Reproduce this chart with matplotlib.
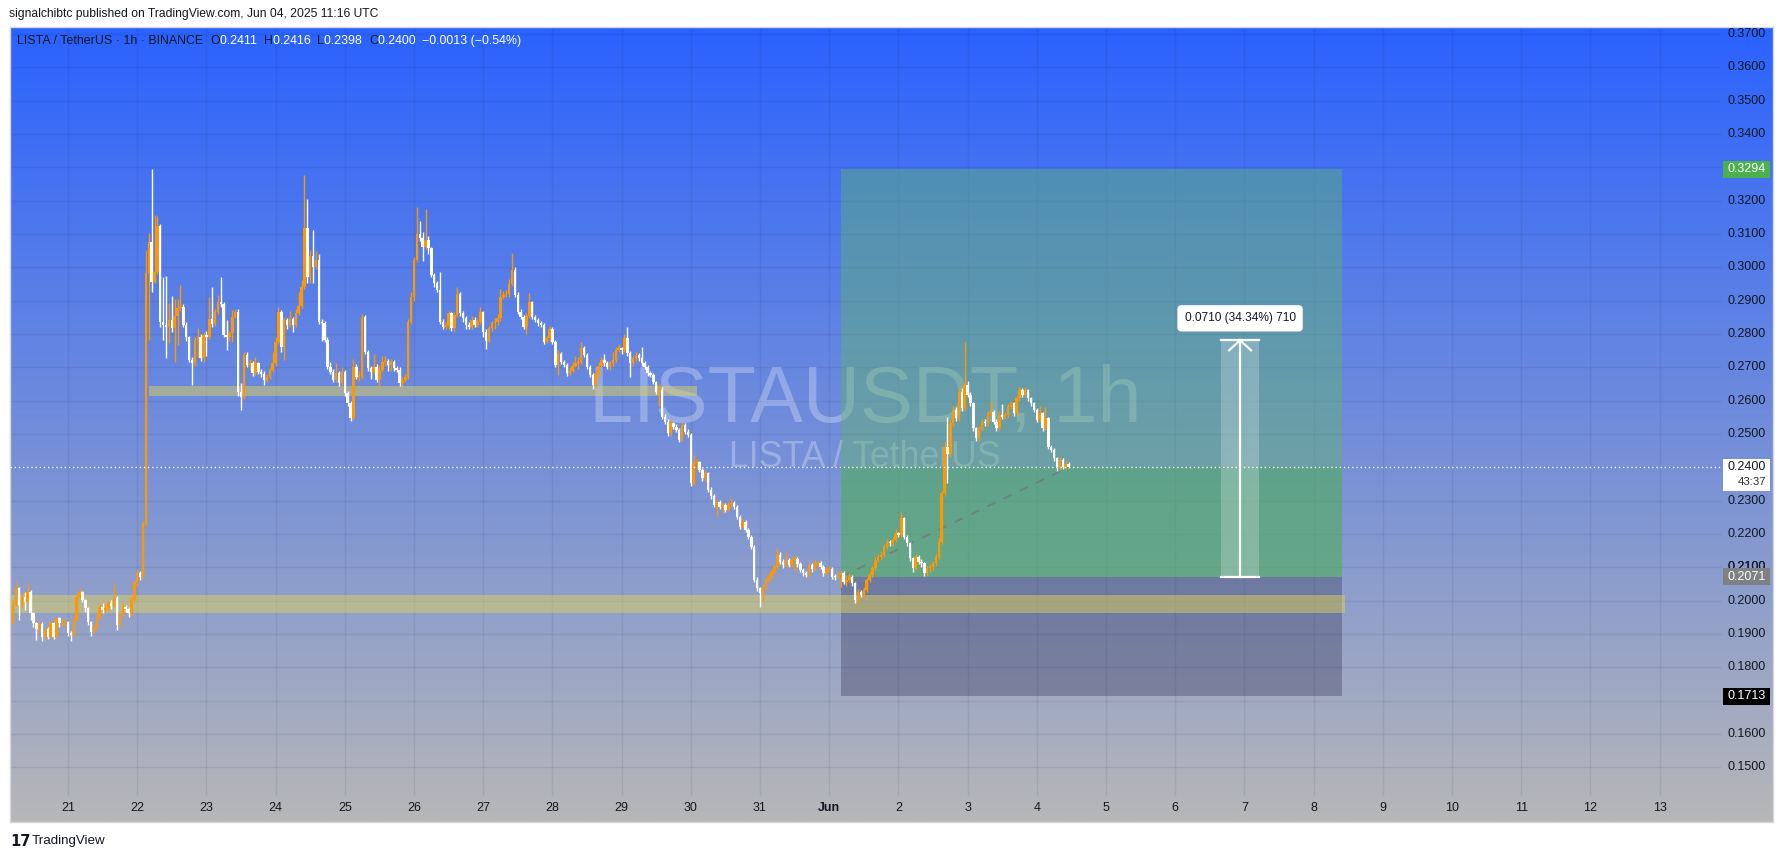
import numpy as np
import pandas as pd
import matplotlib
matplotlib.use("Agg")
import matplotlib.pyplot as plt
from matplotlib import transforms
from matplotlib.patches import Rectangle

plt.rcParams['font.family'] = ['Liberation Sans', 'DejaVu Sans']

# ------------------------------------------------------------------ data
start_time = "2025-05-20 05:00"          # first hourly candle
first_open_1e4 = 1932

close_1e4 = [
1987,2037,1987,2012,1997,2027,1962,1932,1915,1930,
1890,1915,1890,1932,1890,1947,1932,1935,1937,1902,
1897,1942,2012,2027,2002,1977,1937,1905,1922,1952,
1982,1972,1977,1992,1985,2007,1927,1962,1982,1975,
1962,2002,2052,2082,2072,2230,2982,3077,2957,2987,
3124,2837,2827,2822,2842,2817,2854,2877,2882,2827,
2790,2722,2712,2782,2792,2727,2797,2790,2844,2830,
2865,2897,2890,2797,2790,2802,2852,2865,2627,2612,
2737,2707,2712,2682,2712,2687,2680,2662,2672,2692,
2712,2777,2867,2762,2842,2827,2844,2827,2864,2884,
2942,3117,2972,3034,3002,3022,2837,2832,2782,2702,
2687,2662,2682,2652,2687,2622,2592,2547,2702,2672,
2672,2852,2747,2697,2687,2702,2662,2692,2717,2720,
2707,2717,2697,2692,2652,2662,2672,2837,2912,3022,
3100,3087,3062,3082,3057,2977,2952,2932,2837,2822,
2825,2862,2817,2857,2920,2862,2847,2827,2822,2842,
2827,2837,2865,2807,2780,2817,2832,2835,2847,2912,
2917,2920,2950,2992,2917,2867,2852,2822,2854,2897,
2852,2842,2832,2827,2777,2787,2814,2777,2707,2740,
2717,2707,2682,2690,2705,2712,2715,2757,2737,2702,
2677,2647,2680,2705,2722,2712,2702,2712,2722,2752,
2757,2752,2787,2742,2712,2727,2737,2727,2712,2702,
2682,2677,2657,2627,2632,2552,2537,2502,2532,2522,
2512,2482,2527,2507,2497,2352,2412,2417,2392,2367,
2382,2332,2315,2287,2297,2282,2287,2272,2287,2292,
2282,2252,2222,2237,2212,2192,2162,2062,2037,2022,
2042,2062,2072,2087,2102,2137,2117,2107,2122,2107,
2122,2125,2110,2092,2082,2077,2107,2094,2107,2112,
2102,2082,2092,2095,2072,2070,2077,2082,2057,2062,
2072,2052,2002,2027,2017,2032,2062,2077,2097,2122,
2132,2137,2162,2177,2172,2182,2202,2197,2247,2192,
2172,2127,2097,2132,2117,2112,2082,2097,2100,2112,
2132,2177,2322,2462,2440,2532,2572,2547,2627,2577,
2647,2617,2592,2517,2487,2517,2537,2532,2562,2567,
2537,2517,2557,2552,2557,2582,2592,2562,2607,2632,
2617,2632,2607,2592,2572,2542,2562,2517,2547,2462,
2452,2427,2397,2422,2402,2411,2400]

high_1e4 = [
2002,2057,2042,2025,2027,2052,2032,1965,1935,1940,
1935,1918,1920,1940,1937,1952,1950,1945,1945,1940,
1910,1950,2022,2037,2030,2005,1980,1940,1930,1962,
1990,1992,1990,2000,2002,2052,2015,1970,1992,1987,
1980,2010,2062,2092,2090,2240,3052,3102,3295,3157,
3154,3130,2972,2974,2892,2915,2905,2905,2947,2890,
2835,2795,2730,2790,2817,2800,2805,2810,2912,2942,
2875,2917,2972,2895,2842,2810,2872,2875,2875,2652,
2745,2745,2725,2720,2730,2717,2695,2690,2680,2700,
2747,2790,2880,2872,2850,2847,2870,2850,2875,2925,
2962,3277,3204,3052,3112,3050,3040,2845,2840,2790,
2715,2695,2712,2690,2700,2692,2630,2600,2725,2710,
2690,2860,2858,2752,2705,2740,2710,2705,2735,2735,
2725,2725,2722,2705,2700,2670,2680,2845,2925,3030,
3180,3140,3105,3175,3095,3062,2982,2960,2985,2845,
2835,2870,2867,2865,2940,2925,2870,2855,2835,2855,
2850,2845,2880,2870,2815,2825,2840,2847,2860,2935,
2930,2932,2965,3042,3000,2925,2875,2857,2862,2922,
2900,2858,2848,2840,2832,2795,2825,2822,2782,2752,
2745,2722,2712,2700,2715,2735,2730,2775,2765,2742,
2707,2682,2690,2715,2730,2740,2720,2720,2745,2762,
2770,2762,2800,2822,2750,2735,2745,2742,2762,2720,
2707,2690,2682,2660,2650,2640,2560,2545,2542,2537,
2530,2518,2535,2532,2515,2502,2437,2425,2420,2397,
2392,2387,2340,2320,2305,2302,2295,2292,2295,2307,
2298,2287,2257,2245,2242,2217,2197,2167,2070,2042,
2050,2070,2082,2095,2110,2157,2145,2125,2147,2127,
2130,2137,2130,2115,2098,2090,2115,2112,2125,2120,
2118,2107,2100,2105,2100,2080,2085,2092,2090,2075,
2082,2077,2057,2035,2032,2040,2067,2085,2105,2130,
2140,2150,2170,2185,2182,2192,2215,2207,2267,2250,
2197,2177,2132,2140,2137,2125,2117,2105,2110,2120,
2140,2187,2330,2475,2552,2545,2587,2580,2640,2637,
2777,2660,2625,2597,2522,2525,2545,2545,2570,2600,
2572,2545,2570,2590,2565,2590,2600,2597,2615,2642,
2637,2640,2635,2612,2597,2577,2585,2567,2582,2552,
2467,2457,2432,2430,2427,2418,2416]

low_1e4 = [
1930,1985,1942,1980,1972,1995,1942,1922,1882,1905,
1880,1885,1885,1887,1885,1888,1920,1925,1925,1895,
1880,1892,1940,2005,1997,1965,1927,1895,1900,1915,
1945,1962,1965,1970,1975,1980,1912,1920,1955,1967,
1950,1955,1997,2045,2062,2065,2225,2782,2927,2952,
2980,2820,2782,2727,2772,2807,2715,2767,2870,2820,
2780,2715,2647,2705,2732,2720,2715,2735,2785,2822,
2825,2860,2882,2790,2752,2780,2777,2848,2615,2572,
2605,2700,2692,2675,2677,2680,2672,2647,2655,2665,
2685,2705,2770,2745,2722,2815,2820,2805,2820,2858,
2878,2935,2952,2952,2952,2995,2830,2780,2775,2695,
2680,2655,2655,2645,2647,2615,2585,2540,2542,2665,
2660,2665,2740,2690,2665,2680,2655,2645,2685,2705,
2690,2690,2690,2685,2645,2645,2655,2665,2830,2900,
3015,3080,3020,3055,3040,2970,2940,2925,2830,2815,
2815,2815,2810,2805,2850,2855,2835,2815,2815,2815,
2820,2822,2830,2790,2755,2775,2810,2815,2828,2840,
2905,2910,2912,2945,2910,2860,2845,2815,2800,2848,
2845,2835,2825,2820,2770,2772,2780,2770,2700,2677,
2710,2700,2675,2677,2685,2700,2695,2710,2730,2695,
2670,2635,2640,2672,2700,2705,2695,2692,2705,2715,
2745,2740,2745,2735,2672,2705,2720,2720,2705,2695,
2675,2670,2650,2620,2585,2545,2530,2495,2495,2515,
2505,2475,2478,2500,2490,2345,2345,2395,2385,2360,
2360,2325,2305,2280,2255,2275,2262,2265,2268,2280,
2275,2245,2215,2218,2205,2185,2155,2055,2030,1982,
2000,2035,2055,2065,2080,2095,2110,2097,2100,2100,
2100,2085,2102,2085,2075,2070,2072,2087,2088,2100,
2095,2075,2077,2085,2065,2062,2065,2040,2050,2045,
2055,2045,1992,1995,2010,2012,2027,2057,2072,2092,
2115,2125,2130,2155,2165,2165,2175,2190,2192,2185,
2165,2120,2087,2092,2110,2100,2075,2077,2085,2092,
2105,2125,2170,2315,2352,2432,2525,2540,2540,2570,
2570,2610,2585,2510,2480,2480,2510,2525,2525,2555,
2530,2510,2512,2545,2545,2550,2575,2555,2555,2600,
2610,2612,2600,2585,2565,2535,2537,2510,2512,2455,
2445,2420,2390,2392,2395,2395,2398]

price_ticks = [0.15, 0.16, 0.17, 0.18, 0.19, 0.20, 0.21, 0.22, 0.23, 0.24, 0.25,
               0.26, 0.27, 0.28, 0.29, 0.30, 0.31, 0.32, 0.33, 0.34, 0.35, 0.36, 0.37]
day_labels = ["21", "22", "23", "24", "25", "26", "27", "28", "29", "30", "31", "Jun",
              "2", "3", "4", "5", "6", "7", "8", "9", "10", "11", "12", "13"]
first_label_day = "2025-05-21"

upper_zone_price = (0.2614, 0.2644)
upper_zone_time = ("2025-05-22 04:00", "2025-05-30 02:00")
lower_zone_price = (0.1962, 0.2017)
lower_zone_time = ("2025-05-19 00:00", "2025-06-08 11:00")

position_time = ("2025-06-01 04:00", "2025-06-08 10:00")
entry_price, target_price, stop_price = 0.2071, 0.3294, 0.1713
last_price = 0.2400
countdown = "43:37"

measure_time = ("2025-06-06 16:00", "2025-06-07 05:00")
measure_from, measure_to = 0.2071, 0.2781
measure_label = "0.0710 (34.34%) 710"

title_text = "signalchibtc published on TradingView.com, Jun 04, 2025 11:16 UTC"
legend_parts = [("LISTA / TetherUS \u00b7 1h \u00b7 BINANCE  ", "#131722"),
                ("O", "#131722"), ("0.2411  ", "white"),
                ("H", "#131722"), ("0.2416  ", "white"),
                ("L", "#131722"), ("0.2398  ", "white"),
                ("C", "#131722"), ("0.2400  ", "white"),
                ("\u22120.0013 (\u22120.54%)", "white")]
watermark_main = "LISTAUSDT, 1h"
watermark_sub = "LISTA / TetherUS"

# ------------------------------------------------------------------ layout
W, H = 1784, 858
BOX_L, BOX_R, BOX_T, BOX_B = 10, 1773, 27, 822     # chart box in px
PLOT_R = 1720                                       # end of price pane
AXIS_TOP = 795                                      # top of the date band
PX_PER_DAY = 69.2
PX_PER_CENT = 33.333                                # px per 0.01
X0_PX = 68                                          # px of first label day
P0, P0_PX = 0.37, 34                                # price -> px anchor

ORANGE = "#FF9800"
DARK = "#131722"

T0 = pd.Timestamp(first_label_day)


def days(ts):
    return (pd.to_datetime(ts) - T0) / pd.Timedelta(days=1)


xlim = ((BOX_L - X0_PX) / PX_PER_DAY, (BOX_R - X0_PX) / PX_PER_DAY)
ylim = (P0 - (BOX_B - P0_PX) / PX_PER_CENT * 0.01, P0 + (P0_PX - BOX_T) / PX_PER_CENT * 0.01)
dp = 0.01 / PX_PER_CENT     # price per px
dt = 1 / PX_PER_DAY         # days per px

fig = plt.figure(figsize=(W / 100, H / 100), dpi=100)
fig.patch.set_facecolor("white")
ax = fig.add_axes([BOX_L / W, 1 - BOX_B / H, (BOX_R - BOX_L) / W, (BOX_B - BOX_T) / H])
ax.set_xlim(*xlim)
ax.set_ylim(*ylim)
ax.set_xticks([])
ax.set_yticks([])
for s in ax.spines.values():
    s.set_color("#d6d6d6")
    s.set_linewidth(1)


def fx(px):
    return (px - BOX_L) / (BOX_R - BOX_L)


def fy(py):
    return (BOX_B - py) / (BOX_B - BOX_T)


# background gradient
g = np.linspace(0, 1, 600)[:, None, None]
top_c = np.array([42, 98, 255]) / 255
bot_c = np.array([183, 183, 183]) / 255
img = top_c + (bot_c - top_c) * g
ax.imshow(img, extent=[xlim[0], xlim[1], ylim[0], ylim[1]], aspect="auto",
          origin="upper", zorder=0, interpolation="bilinear")

# grid
grid_c = (0.12, 0.16, 0.30, 0.09)
for p in price_ticks:
    ax.axhline(p, xmin=0, xmax=fx(PLOT_R), color=grid_c, lw=1, zorder=1)
day_pos = [days(T0 + pd.Timedelta(days=i)) for i in range(len(day_labels))]
for d in day_pos:
    ax.axvline(d, ymin=fy(AXIS_TOP), ymax=1, color=grid_c, lw=1, zorder=1)

# watermark
wm_x = fx((BOX_L + PLOT_R) / 2)
renderer = fig.canvas.get_renderer()


def fitted_text(x, y, s, width_px, alpha, z):
    t = ax.text(x, y, s, transform=ax.transAxes, ha="center", va="baseline",
                fontsize=50, color=(1, 1, 1, alpha), zorder=z)
    w = t.get_window_extent(renderer).width
    t.set_fontsize(50 * width_px / w)
    return t


fitted_text(wm_x, fy(422), watermark_main, 553, 0.28, 2)
fitted_text(wm_x, fy(467), watermark_sub, 272, 0.28, 2)

# horizontal zones
for (p0, p1), (a, b) in ((upper_zone_price, upper_zone_time), (lower_zone_price, lower_zone_time)):
    ta, tb = days(a), days(b)
    ax.add_patch(Rectangle((ta, p0), tb - ta, p1 - p0, facecolor=(220 / 255, 208 / 255, 95 / 255, 0.5),
                           edgecolor="none", zorder=3))

# long position tool
pa, pb = days(position_time[0]), days(position_time[1])
ax.add_patch(Rectangle((pa, entry_price), pb - pa, target_price - entry_price,
                       facecolor=(96 / 255, 184 / 255, 100 / 255, 0.42), edgecolor="none", zorder=2.5))
ax.add_patch(Rectangle((pa, entry_price), pb - pa, last_price - entry_price,
                       facecolor=(66 / 255, 166 / 255, 89 / 255, 0.35), edgecolor="none", zorder=2.6))
ax.add_patch(Rectangle((pa, stop_price), pb - pa, entry_price - stop_price,
                       facecolor=(55 / 255, 55 / 255, 85 / 255, 0.35), edgecolor="none", zorder=2.5))

# candles
n = min(len(close_1e4), len(high_1e4), len(low_1e4))
times = pd.date_range(start_time, periods=n, freq="h")
tt = np.asarray(days(times), dtype=float)
c = np.array(close_1e4[:n]) / 1e4
o = np.r_[first_open_1e4 / 1e4, c[:-1]]
hi = np.maximum(np.array(high_1e4[:n]) / 1e4, np.maximum(o, c))
lo = np.minimum(np.array(low_1e4[:n]) / 1e4, np.minimum(o, c))
cols = np.where(c >= o, ORANGE, "white")

# trade path line (entry -> last price)
ax.plot([pa, tt[-1]], [entry_price, last_price], color=(0.45, 0.47, 0.52, 0.8), lw=1.3,
        dashes=(5, 5), zorder=4)

ax.vlines(tt, lo, hi, colors=cols, lw=1.0, zorder=5)
body_h = np.maximum(np.abs(c - o), 1.2 * dp)
ax.bar(tt, body_h, bottom=np.minimum(o, c), width=0.85 / 24, color=cols, linewidth=0, zorder=6)

# last price dotted line
ax.axhline(last_price, xmin=0, xmax=fx(PLOT_R), color="white", lw=1, ls=(0, (1, 2)), zorder=7)

# measure tool
ma, mb = days(measure_time[0]), days(measure_time[1])
mc = (ma + mb) / 2
ax.add_patch(Rectangle((ma, measure_from), mb - ma, measure_to - measure_from,
                       facecolor=(1, 1, 1, 0.22), edgecolor="none", zorder=8))
ax.plot([mc, mc], [measure_from, measure_to], color="white", lw=1.6, zorder=9)
ax.plot([ma, mb], [measure_from, measure_from], color="white", lw=1.6, zorder=9)
ax.plot([ma, mb], [measure_to, measure_to], color="white", lw=1.6, zorder=9)
ax.plot([mc - 11 * dt, mc, mc + 11 * dt], [measure_to - 10 * dp, measure_to, measure_to - 10 * dp],
        color="white", lw=1.6, zorder=9)
ax.text(mc, measure_to + 22 * dp, measure_label, ha="center", va="center", fontsize=8.6,
        color=DARK, zorder=12,
        bbox=dict(boxstyle="round,pad=0.6,rounding_size=0.35", fc="white", ec="none"))

# price scale labels (a label fully hidden under a marker box is not drawn)
tr_yx = transforms.blended_transform_factory(ax.transAxes, ax.transData)
box_prices = [target_price, entry_price, stop_price]
for p in price_ticks:
    if any(abs(p - b) < 6 * dp for b in box_prices) or abs(p - (last_price - 8 * dp)) < 16 * dp:
        continue
    ax.text(fx(1766), p, f"{p:.4f}", transform=tr_yx, ha="right", va="center",
            fontsize=9, color=DARK, zorder=15)
# partly hidden label just above the entry box
for p in price_ticks:
    if 6 * dp <= abs(p - entry_price) < 11 * dp and p > entry_price:
        ax.text(fx(1766), p, f"{p:.4f}", transform=tr_yx, ha="right", va="center",
                fontsize=9, color=DARK, zorder=15)


def price_box(price, label, fc, tc, h_px=17):
    ax.add_patch(Rectangle((fx(1723), price - h_px / 2 * dp), fx(1770) - fx(1723), h_px * dp,
                           transform=tr_yx, facecolor=fc, edgecolor="none", zorder=20, clip_on=False))
    ax.text(fx(1766), price, label, transform=tr_yx, ha="right", va="center", fontsize=9,
            color=tc, zorder=21)


price_box(target_price, f"{target_price:.4f}", "#4CAF50", "white")
price_box(entry_price, f"{entry_price:.4f}", "#7f8084", "white")
price_box(stop_price, f"{stop_price:.4f}", "#000000", "white")
# current price label with countdown
ax.add_patch(Rectangle((fx(1723), last_price - 24 * dp), fx(1770) - fx(1723), 32 * dp,
                       transform=tr_yx, facecolor="white", edgecolor="none", zorder=20, clip_on=False))
ax.text(fx(1766), last_price, f"{last_price:.4f}", transform=tr_yx, ha="right", va="center",
        fontsize=9, color=DARK, zorder=21)
ax.text(fx(1766), last_price - 14.5 * dp, countdown, transform=tr_yx, ha="right", va="center",
        fontsize=8.2, color="#333333", zorder=21)

# date labels
tr_xy = transforms.blended_transform_factory(ax.transData, ax.transAxes)
for d, lab in zip(day_pos, day_labels):
    ax.text(d, fy(808), lab, transform=tr_xy, ha="center", va="center", fontsize=9,
            color=DARK, fontweight="bold" if lab == "Jun" else "normal", zorder=15)

# title
fig.text(9 / W, 1 - 14 / H, title_text, ha="left", va="center", fontsize=8.7, color=DARK)

# legend line inside chart
xpos = 17
for txt, col in legend_parts:
    t = fig.text(xpos / W, 1 - 41 / H, txt, ha="left", va="center", fontsize=8.9, color=col, zorder=30)
    xpos += t.get_window_extent(renderer).width

# TradingView logo
fig.text(10 / W, 1 - 841 / H, "17", ha="left", va="center", fontsize=10.5, fontweight="bold",
         family="DejaVu Sans", color=DARK)
fig.text(32 / W, 1 - 841 / H, "TradingView", ha="left", va="center", fontsize=9.6, color=DARK)

fig.savefig("out.png", dpi=100)
